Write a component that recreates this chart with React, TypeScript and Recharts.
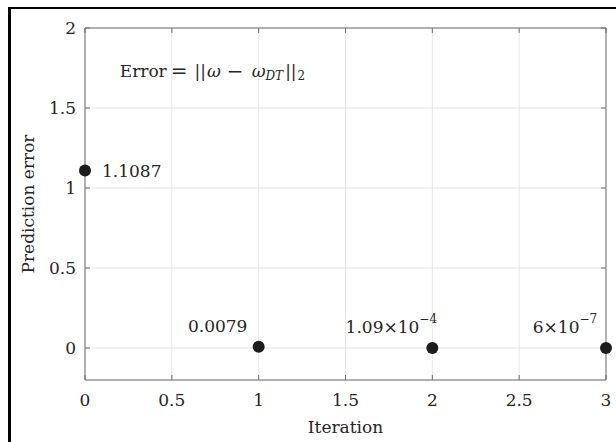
import React from 'react';
import { ScatterChart, Scatter, XAxis, YAxis, CartesianGrid, ReferenceDot, ReferenceLine } from 'recharts';

const iterations = [0, 1, 2, 3];
const errors = [1.1087, 0.0079, 1.09e-4, 6e-7];
const mantissas = ['1.1087', '0.0079', '1.09×10', '6×10'];
const exponents = ['', '', '−4', '−7'];
const xTicks = [0, 0.5, 1, 1.5, 2, 2.5, 3];
const yTicks = [0, 0.5, 1, 1.5, 2];

const FONT = "'DejaVu Serif', serif";
const FS = 17;
const TEXT = '#262626';
const AXIS = '#6e6e6e';
// inward tick length for the top / right box edges, in data units (~5px)
const TOP_TICK = 0.031;
const RIGHT_TICK = 0.029;

const points = iterations.map((x, i) => ({ x, y: errors[i], i, label: mantissas[i], exp: exponents[i] }));

// dot + its value label (first one sits to the right, the rest above-left)
const ErrorDot = (props: any) => {
  const { cx, cy, payload } = props;
  const first = payload.i === 0;
  return (
    <g>
      <circle cx={cx} cy={cy} r={6} fill="#1c1c1c" />
      <text
        x={first ? cx + 17 : cx - 41}
        y={first ? cy : cy - 21}
        textAnchor={first ? 'start' : 'middle'}
        dominantBaseline="central"
        fontFamily={FONT}
        fontSize={FS}
        fill={TEXT}
      >
        {payload.label}
        {payload.exp && (
          <tspan fontSize={12} dy={-8}>
            {payload.exp}
          </tspan>
        )}
      </text>
    </g>
  );
};

const FormulaLabel = (props: any) => {
  const { viewBox } = props;
  return (
    <text x={viewBox.x} y={viewBox.y} dominantBaseline="central" fontFamily={FONT} fontSize={FS} fill={TEXT}>
      Error
      <tspan dx={4} fontSize={20}>=</tspan>
      <tspan dx={7}>||</tspan>
      <tspan dx={1} fontStyle="italic">ω</tspan>
      <tspan dx={6} fontSize={20}>−</tspan>
      <tspan dx={8} fontStyle="italic">ω</tspan>
      <tspan fontStyle="italic" fontSize={12} dy={5}>DT</tspan>
      <tspan dx={2} dy={-5}>||</tspan>
      <tspan dx={1} fontSize={12} dy={5}>2</tspan>
    </text>
  );
};

const YLabel = (props: any) => {
  const { viewBox } = props;
  const cy = viewBox.y + viewBox.height / 2;
  return (
    <text x={28} y={cy} transform={`rotate(-90, 28, ${cy})`} textAnchor="middle" dominantBaseline="central" fontFamily={FONT} fontSize={FS} fill={TEXT}>
      Prediction error
    </text>
  );
};

const XLabel = (props: any) => {
  const { viewBox } = props;
  return (
    <text x={viewBox.x + viewBox.width / 2} y={viewBox.y + 53} textAnchor="middle" fontFamily={FONT} fontSize={FS} fill={TEXT}>
      Iteration
    </text>
  );
};

export default function App() {
  const tickStyle = { fontFamily: FONT, fontSize: FS, fill: TEXT };
  return (
    <div style={{ position: 'absolute', left: 0, top: 0, width: 616, height: 442, overflow: 'hidden', background: '#fff' }}>
      <div style={{ position: 'absolute', left: 8, top: 7, width: 700, height: 500, borderLeft: '3px solid #000', borderTop: '2px solid #000' }} />
      <div style={{ position: 'absolute', left: 0, top: 0 }}>
        <ScatterChart width={616} height={442} margin={{ top: 28, right: 10, bottom: 10, left: 10 }}>
          <CartesianGrid stroke="#e6e6e6" strokeWidth={1} />
          <XAxis
            type="number"
            dataKey="x"
            domain={[0, 3]}
            ticks={xTicks}
            height={52}
            stroke={AXIS}
            tick={tickStyle}
            tickSize={-5}
            tickMargin={19}
            label={<XLabel />}
          />
          <YAxis
            type="number"
            dataKey="y"
            domain={[-0.2, 2]}
            ticks={yTicks}
            width={75}
            stroke={AXIS}
            tick={tickStyle}
            tickSize={-5}
            tickMargin={14}
            label={<YLabel />}
          />
          {/* box edges with inward ticks */}
          <ReferenceLine y={2} stroke={AXIS} />
          <ReferenceLine x={3} stroke={AXIS} />
          {xTicks.map((t) => (
            <ReferenceLine key={'tt' + t} segment={[{ x: t, y: 2 }, { x: t, y: 2 - TOP_TICK }]} stroke={AXIS} />
          ))}
          {yTicks.map((t) => (
            <ReferenceLine key={'rt' + t} segment={[{ x: 3, y: t }, { x: 3 - RIGHT_TICK, y: t }]} stroke={AXIS} />
          ))}
          <ReferenceDot x={0.2} y={1.73} r={0} fill="none" stroke="none" label={<FormulaLabel />} />
          <Scatter data={points} shape={<ErrorDot />} isAnimationActive={false} />
        </ScatterChart>
      </div>
    </div>
  );
}
